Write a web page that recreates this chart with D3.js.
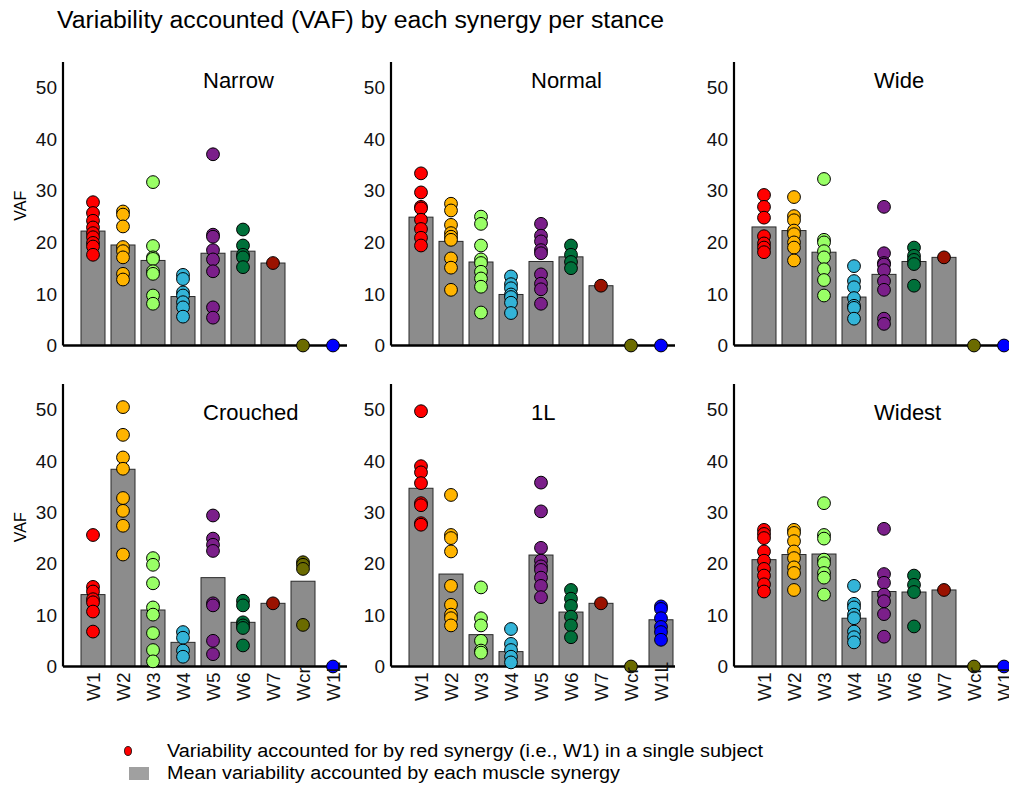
<!DOCTYPE html>
<html>
<head>
<meta charset="utf-8">
<script src="https://cdn.jsdelivr.net/npm/d3@7"></script>
<style>
  body { margin: 0; background: #fff; }
  svg { font-family: "Liberation Sans", Arial, Helvetica, sans-serif; }
</style>
</head>
<body>
<svg id="chart" width="1009" height="785"></svg>
<script>
// synergy names and colours
const synergies = ['W1', 'W2', 'W3', 'W4', 'W5', 'W6', 'W7', 'Wcr', 'W1L'];
const colors = ['#ff0000', '#ffb400', '#99ff66', '#33b4d8', '#7b1f8a', '#00703a', '#9a1200', '#6b6b00', '#0000ff'];
const stances = ['Narrow', 'Normal', 'Wide', 'Crouched', '1L', 'Widest'];
const yTicks = [0, 10, 20, 30, 40, 50];

// mean VAF per synergy, one row per stance
const means = [
    [22.2, 19.5, 16.5, 9.5, 17.9, 18.3, 16.0, 0, 0],
    [24.9, 20.2, 16.2, 9.9, 16.3, 17.2, 11.6, 0, 0],
    [23.0, 22.3, 18.1, 9.4, 13.8, 16.3, 17.1, 0, 0],
    [14.0, 38.4, 11.0, 4.7, 17.3, 8.6, 12.3, 16.6, 0],
    [34.7, 18.0, 6.2, 2.9, 21.7, 10.6, 12.3, 0, 9.1],
    [20.8, 21.8, 21.9, 9.4, 14.6, 14.5, 14.9, 0, 0]
];

// single subject VAF values
const narrow = [
    [27.8, 25.7, 24.2, 22.9, 21.8, 21.0, 19.9, 19.2, 17.6],
    [26.0, 25.4, 23.1, 19.1, 18.3, 17.1, 13.9, 12.8],
    [31.7, 19.3, 17.1, 16.8, 14.4, 13.9, 9.7, 8.1],
    [13.7, 12.9, 10.3, 9.7, 8.4, 7.4, 5.6],
    [37.1, 21.5, 21.1, 18.5, 16.7, 14.4, 7.4, 5.4],
    [22.5, 19.4, 17.6, 17.1, 15.2],
    [16.0],
    [0],
    [0]
];
const normal = [
    [33.4, 29.7, 26.9, 26.6, 24.4, 22.6, 20.9, 19.4],
    [27.5, 26.2, 23.4, 21.8, 21.1, 20.5, 16.9, 15.1, 10.8],
    [25.0, 23.6, 19.4, 16.7, 16.0, 14.3, 13.0, 11.4, 6.4],
    [13.4, 11.9, 11.1, 9.9, 9.4, 8.3, 6.3],
    [23.6, 21.3, 20.2, 18.5, 17.9, 13.8, 12.0, 10.9, 8.1],
    [19.4, 17.6, 16.2, 15.0],
    [11.6],
    [0],
    [0]
];
const wide = [
    [29.2, 26.9, 24.8, 21.2, 19.8, 19.0, 18.1],
    [28.8, 25.1, 24.3, 22.3, 21.6, 20.0, 19.0, 16.5],
    [32.3, 20.5, 20.0, 18.3, 17.1, 14.8, 12.7, 9.7],
    [15.4, 12.5, 11.3, 9.2, 7.7, 7.3, 5.2],
    [26.9, 17.9, 16.0, 15.7, 14.6, 12.5, 10.8, 5.2, 4.2],
    [19.0, 17.4, 16.6, 15.8, 11.6],
    [17.1],
    [0],
    [0]
];
const crouched = [
    [25.6, 15.5, 14.6, 13.1, 12.5, 10.7, 6.8],
    [50.5, 45.1, 40.7, 38.5, 32.8, 30.3, 27.4, 21.8],
    [21.1, 19.8, 16.2, 11.5, 10.1, 6.5, 3.2, 1.0],
    [6.7, 5.6, 3.1, 1.9],
    [29.4, 24.9, 23.7, 22.5, 12.3, 11.9, 5.0, 2.4],
    [12.8, 11.9, 8.6, 8.0, 7.5, 4.1],
    [12.3],
    [20.3, 19.8, 19.0, 8.1],
    [0]
];
const oneLeg = [
    [49.7, 39.0, 37.8, 35.7, 31.8, 31.4, 27.9, 27.6],
    [33.4, 25.6, 25.0, 22.4, 15.7, 12.0, 10.1, 9.4, 8.0],
    [15.4, 9.4, 8.0, 5.0, 3.1, 2.7],
    [7.3, 4.4, 3.2, 1.9, 0.8],
    [35.8, 30.2, 23.1, 20.6, 19.5, 18.8, 17.3, 15.7, 13.5],
    [14.9, 13.2, 11.8, 9.7, 8.0, 5.7],
    [12.3],
    [0],
    [11.7, 11.2, 9.4, 7.7, 6.7, 5.2]
];
const widest = [
    [26.6, 25.8, 25.0, 22.4, 20.6, 19.0, 17.7, 16.0, 14.6],
    [26.6, 26.0, 24.4, 22.4, 21.1, 19.3, 18.2, 14.9],
    [31.8, 25.6, 24.9, 20.8, 20.1, 18.2, 17.3, 14.0],
    [15.7, 12.2, 11.5, 10.1, 9.4, 6.8, 5.7, 4.7],
    [26.8, 18.0, 16.3, 14.0, 12.7, 10.2, 5.8],
    [17.7, 15.9, 14.5, 7.8],
    [14.9],
    [0],
    [0]
];
const subjects = [narrow, normal, wide, crouched, oneLeg, widest];

const svg = d3.select('#chart');

// panel placement
const axisX = [63, 391, 734];
const rowTop = [62, 384];
const rowZero = [345.5, 666.5];
const titleY = [88, 420];

svg.append('text')
    .attr('x', 57)
    .attr('y', 28)
    .attr('font-size', 23)
    .attr('textLength', 607).attr('lengthAdjust', 'spacingAndGlyphs')
    .text('Variability accounted (VAF) by each synergy per stance');

stances.forEach((stance, i) => {
    const col = i % 3, row = Math.floor(i / 3);
    const x0 = axisX[col];
    const g = svg.append('g');

    const x = d3.scaleBand()
        .domain(synergies)
        .range([x0 + 15, x0 + 285])
        .paddingInner(0.2)
        .paddingOuter(0.1);
    const y = d3.scaleLinear()
        .domain([0, 55])
        .range([rowZero[row], rowTop[row]]);

    // bars
    g.selectAll('rect')
        .data(synergies.map((s, k) => ({ s, v: means[i][k] })).filter(d => d.v > 0))
        .enter().append('rect')
        .attr('x', d => x(d.s))
        .attr('width', x.bandwidth())
        .attr('y', d => y(d.v))
        .attr('height', d => y(0) - y(d.v))
        .attr('fill', '#8c8c8c')
        .attr('stroke', '#2a2a2a')
        .attr('stroke-width', 1);

    // y axis
    const yAxis = g.append('g')
        .attr('transform', `translate(${x0},0)`)
        .call(d3.axisLeft(y).tickValues(yTicks).tickSize(0).tickPadding(6));
    yAxis.select('.domain').attr('stroke', '#000').attr('stroke-width', 2.2)
        .attr('d', `M0,${rowTop[row]}V${rowZero[row]}`);
    yAxis.selectAll('text').attr('font-size', 19).attr('font-family', 'inherit').attr('fill', '#111');

    // x baseline
    g.append('line')
        .attr('x1', x0)
        .attr('x2', Math.min(x0 + 284, 1012))
        .attr('y1', y(0))
        .attr('y2', y(0))
        .attr('stroke', '#000')
        .attr('stroke-width', 2.5);

    // subject dots
    const pts = [];
    subjects[i].forEach((vals, k) => vals.forEach(v => pts.push({ s: synergies[k], k, v })));
    g.selectAll('circle')
        .data(pts)
        .enter().append('circle')
        .attr('cx', d => x(d.s) + x.bandwidth() / 2)
        .attr('cy', d => y(d.v))
        .attr('r', 6.4)
        .attr('fill', d => colors[d.k])
        .attr('stroke', '#000')
        .attr('stroke-width', 1);

    // stance title
    g.append('text')
        .attr('x', x0 + 140)
        .attr('y', titleY[row])
        .attr('font-size', 22)
        .text(stance);

    // rotated tick labels on the bottom row
    if (row === 1) {
        g.selectAll('.xlab')
            .data(synergies)
            .enter().append('text')
            .attr('class', 'xlab')
            .attr('transform', d => `translate(${x(d) + x.bandwidth() / 2},701) rotate(-90)`)
            .attr('dy', '0.36em')
            .attr('font-size', 19)
            .attr('fill', '#111')
            .text(d => d);
    }

    if (col === 0) {
        g.append('text')
            .attr('transform', `translate(20,${(rowTop[row] + rowZero[row]) / 2 + 2}) rotate(-90)`)
            .attr('text-anchor', 'middle')
            .attr('dy', '0.35em')
            .attr('font-size', 16)
            .text('VAF');
    }
});

// legend
const legend = svg.append('g');
legend.append('ellipse')
    .attr('cx', 128).attr('cy', 751)
    .attr('rx', 3.5).attr('ry', 4.5)
    .attr('fill', '#ff0000').attr('stroke', '#000').attr('stroke-width', 0.8);
legend.append('rect')
    .attr('x', 129).attr('y', 767)
    .attr('width', 20).attr('height', 13)
    .attr('fill', '#a0a0a0');
legend.append('text')
    .attr('x', 167).attr('y', 757)
    .attr('font-size', 18)
    .attr('textLength', 596).attr('lengthAdjust', 'spacingAndGlyphs')
    .text('Variability accounted for by red synergy (i.e., W1) in a single subject');
legend.append('text')
    .attr('x', 167).attr('y', 779)
    .attr('font-size', 18)
    .attr('textLength', 453).attr('lengthAdjust', 'spacingAndGlyphs')
    .text('Mean variability accounted by each muscle synergy');
</script>
</body>
</html>
